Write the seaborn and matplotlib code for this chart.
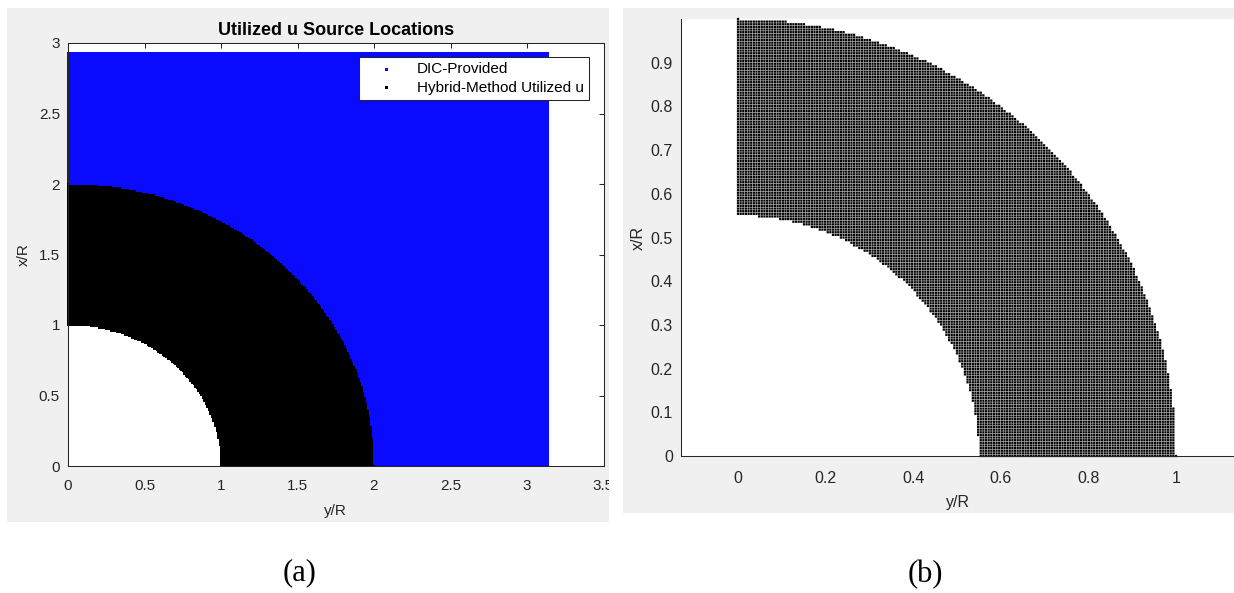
import numpy as np
import pandas as pd
import matplotlib
matplotlib.use("Agg")
import matplotlib.pyplot as plt
import seaborn as sns
from matplotlib.patches import Rectangle
from matplotlib.transforms import Bbox, TransformedBbox

# ---------------- data ----------------
# panel (a): DIC field and hybrid-method annulus (normalised by hole radius R)
a_grid_step = 0.01
a_field_y_extent = 3.14      # horizontal axis (y/R) extent of DIC field
a_field_x_extent = 2.93      # vertical axis (x/R) extent of DIC field
a_hole_radius = 1.0
a_hybrid_outer_radius = 2.0
a_xticks = [0, 0.5, 1, 1.5, 2, 2.5, 3, 3.5]
a_xticklabels = ["0", "0.5", "1", "1.5", "2", "2.5", "3", "3.5"]
a_yticks = [0, 0.5, 1, 1.5, 2, 2.5, 3]
a_yticklabels = ["0", "0.5", "1", "1.5", "2", "2.5", "3"]
legend_labels = ["DIC-Provided", "Hybrid-Method Utilized u"]
a_title = "Utilized u Source Locations"

# panel (b): utilised annulus
b_grid_points = 167          # points along each axis from 0 to 1
b_inner_radius = 0.55
b_outer_radius = 1.0
b_xticks = [0, 0.2, 0.4, 0.6, 0.8, 1]
b_xticklabels = ["0", "0.2", "0.4", "0.6", "0.8", "1"]
b_yticks = [0, 0.1, 0.2, 0.3, 0.4, 0.5, 0.6, 0.7, 0.8, 0.9]
b_yticklabels = ["0", "0.1", "0.2", "0.3", "0.4", "0.5", "0.6", "0.7", "0.8", "0.9"]

# ---------------- build point tables ----------------
ya = np.arange(0, a_field_y_extent + 1e-9, a_grid_step)
xa = np.arange(0, a_field_x_extent + 1e-9, a_grid_step)
YA, XA = np.meshgrid(ya, xa)
RA = np.hypot(YA, XA)
dic_mask = RA >= a_hole_radius
hyb_mask = (RA >= a_hole_radius) & (RA <= a_hybrid_outer_radius)
df_dic = pd.DataFrame({"yR": YA[dic_mask], "xR": XA[dic_mask]})
df_hyb = pd.DataFrame({"yR": YA[hyb_mask], "xR": XA[hyb_mask]})

gb = np.linspace(0, 1, b_grid_points)
YB, XB = np.meshgrid(gb, gb)
RB = np.hypot(YB, XB)
b_mask = (RB >= b_inner_radius) & (RB <= b_outer_radius + 1e-9)
df_b = pd.DataFrame({"yR": YB[b_mask], "xR": XB[b_mask]})

# ---------------- style ----------------
sns.set_style("white")
plt.rcParams["font.family"] = ["Liberation Sans", "DejaVu Sans"]
ink = "#262626"
plt.rcParams.update({
    "axes.edgecolor": ink, "axes.labelcolor": ink,
    "xtick.color": ink, "ytick.color": ink, "text.color": ink,
    "axes.linewidth": 0.75,
})

W, H = 1234, 593
fig = plt.figure(figsize=(W / 100, H / 100), dpi=100)
fig.patch.set_facecolor("white")

def fx(px):
    return px / W

def fy(py):
    return 1 - py / H

gray = "#f0f0f0"
rect_a = (fx(7), fy(522), fx(609) - fx(7), fy(8) - fy(522))
rect_b = (fx(623), fy(513), 1 - fx(623), fy(8) - fy(513))
for r in (rect_a, rect_b):
    fig.add_artist(Rectangle((r[0], r[1]), r[2], r[3], transform=fig.transFigure,
                             facecolor=gray, edgecolor="none", zorder=-10))

# ---------------- panel (a) ----------------
ax_a = fig.add_axes([fx(68), fy(466), fx(603.5) - fx(68), fy(43) - fy(466)])
ax_a.set_facecolor("white")
sns.scatterplot(data=df_dic, x="yR", y="xR", ax=ax_a, marker="s", s=1.7,
                color="#0a0aff", linewidth=0, edgecolor="none",
                label=legend_labels[0], clip_on=False)
sns.scatterplot(data=df_hyb, x="yR", y="xR", ax=ax_a, marker="s", s=1.7,
                color="#000000", linewidth=0, edgecolor="none",
                label=legend_labels[1], clip_on=False)
ax_a.set_xlim(0, 3.5)
ax_a.set_ylim(0, 3)
ax_a.set_xticks(a_xticks)
ax_a.set_xticklabels(a_xticklabels)
ax_a.set_yticks(a_yticks)
ax_a.set_yticklabels(a_yticklabels)
ax_a.tick_params(axis="both", direction="in", length=3.6, width=0.75,
                 top=True, right=True, labelsize=11)
ax_a.tick_params(axis="x", pad=9.5)
ax_a.tick_params(axis="y", pad=5.8)
for s in ax_a.spines.values():
    s.set_visible(True)
    s.set_color(ink)
    s.set_linewidth(0.75)
ax_a.set_title(a_title, fontsize=13, fontweight="bold", pad=6, color="#000000")
ax_a.set_xlabel("y/R", fontsize=11)
ax_a.set_ylabel("x/R", fontsize=11)
ax_a.xaxis.set_label_coords(0.5, (466 - 511) / 423)
ax_a.xaxis.label.set_va("center")
ax_a.yaxis.set_label_coords((24 - 68) / 535.5, 0.5)
ax_a.yaxis.label.set_va("center")
leg = ax_a.legend(loc="upper right", bbox_to_anchor=((589 - 68) / 535.5, (466 - 57) / 423),
                  fontsize=11, markerscale=1.6, frameon=True, fancybox=False,
                  framealpha=1, edgecolor=ink, borderpad=0.35, labelspacing=0.3,
                  handlelength=2.9, handletextpad=0.5, borderaxespad=0)
leg.get_frame().set_linewidth(0.75)
for t in leg.get_texts():
    t.set_color("#000000")
# clip the x tick labels to the grey panel like the reference ("3.5" is cut)
clipbox = TransformedBbox(Bbox([[rect_a[0], rect_a[1]], [rect_a[0] + rect_a[2], rect_a[1] + rect_a[3]]]),
                          fig.transFigure)
for lab in ax_a.get_xticklabels():
    lab.set_clip_box(clipbox)
    lab.set_clip_on(True)

# ---------------- panel (b) ----------------
ax_b = fig.add_axes([fx(681), fy(456), 1 - fx(681), fy(19) - fy(456)])
ax_b.set_facecolor("white")
sns.scatterplot(data=df_b, x="yR", y="xR", ax=ax_b, marker="s", s=2.6,
                color="#000000", linewidth=0, edgecolor="none",
                clip_on=False, legend=False, snap=False)
ax_b.set_xlim((681 - 738) / 438, (1234 - 738) / 438)
ax_b.set_ylim(0, 1.0)
ax_b.set_xticks(b_xticks)
ax_b.set_xticklabels(b_xticklabels)
ax_b.set_yticks(b_yticks)
ax_b.set_yticklabels(b_yticklabels)
ax_b.tick_params(axis="both", direction="in", length=3.6, width=0.75, labelsize=11.5)
ax_b.tick_params(axis="x", pad=11)
ax_b.tick_params(axis="y", pad=5.8)
ax_b.spines["top"].set_visible(False)
ax_b.spines["right"].set_visible(False)
for k in ("left", "bottom"):
    ax_b.spines[k].set_color(ink)
    ax_b.spines[k].set_linewidth(0.75)
ax_b.set_xlabel("y/R", fontsize=11.5)
ax_b.set_ylabel("x/R", fontsize=11.5)
ax_b.xaxis.set_label_coords(0.5, (456 - 502) / 437)
ax_b.xaxis.label.set_va("center")
ax_b.yaxis.set_label_coords((638 - 681) / 553, 0.5)
ax_b.yaxis.label.set_va("center")

# ---------------- sub-figure captions ----------------
fig.text(fx(300), fy(573), "(a)", family=["Liberation Serif", "DejaVu Serif"],
         fontsize=22, ha="center", va="center", color="#000000")
fig.text(fx(925), fy(575), "(b)", family=["Liberation Serif", "DejaVu Serif"],
         fontsize=22, ha="center", va="center", color="#000000")

fig.savefig("out.png", dpi=100, facecolor="white")
